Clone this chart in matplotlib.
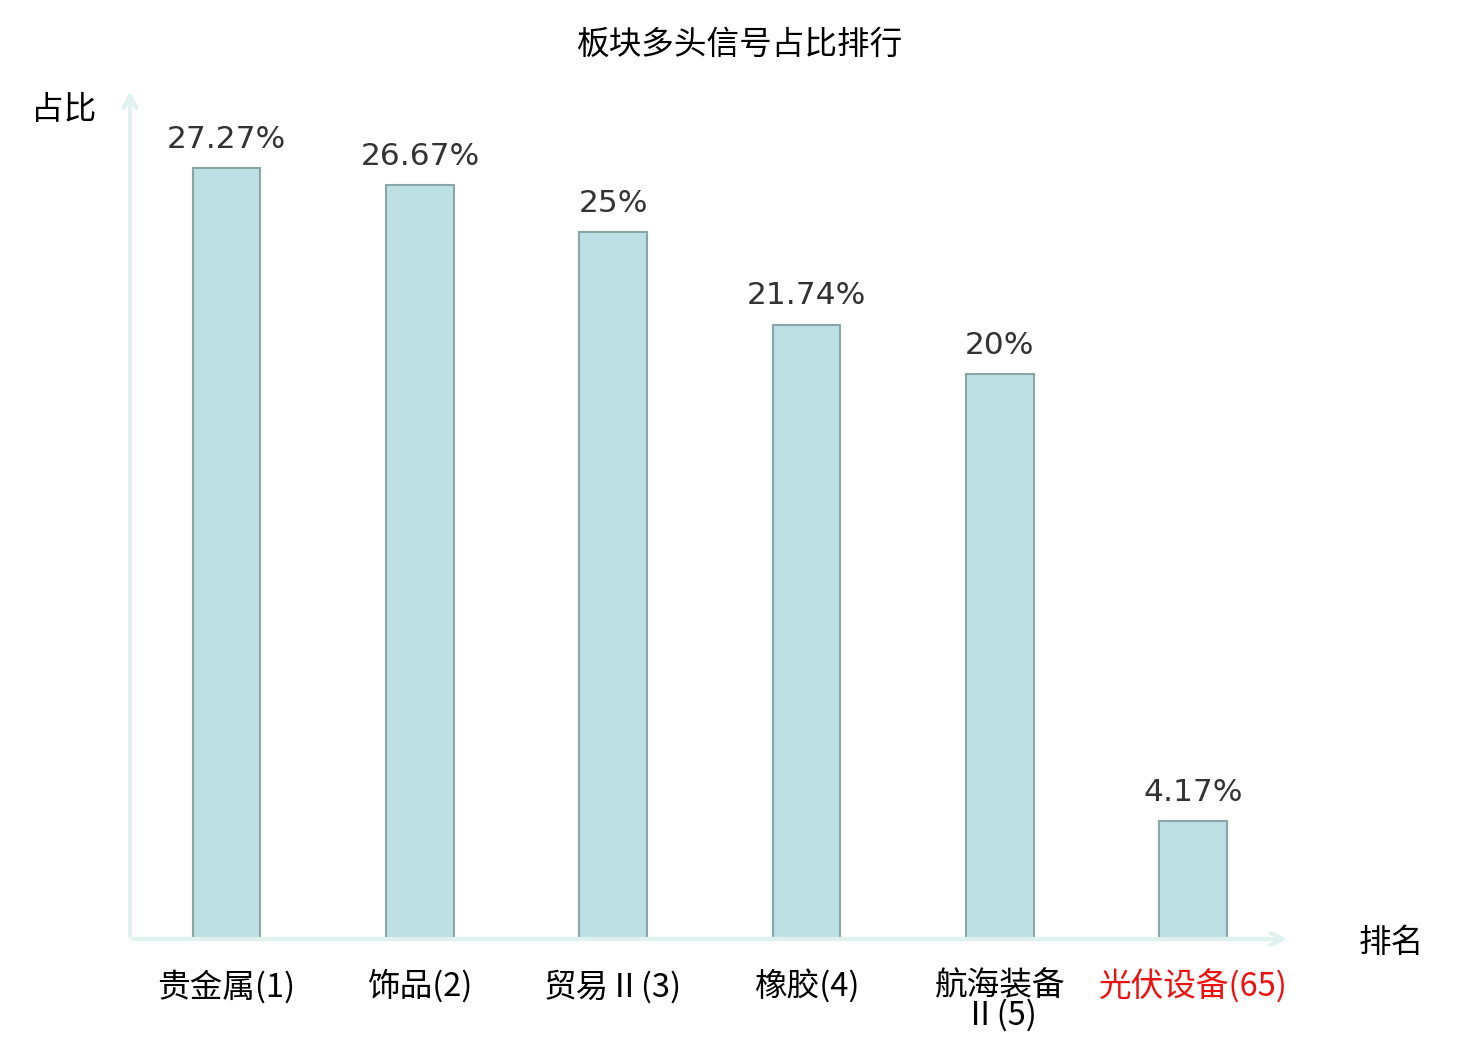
import matplotlib
matplotlib.use('Agg')
import matplotlib.pyplot as plt

plt.rcParams['font.family'] = ['Noto Sans CJK SC', 'DejaVu Sans']

# 数据
sectors = ['贵金属(1)', '饰品(2)', '贸易Ⅱ(3)', '橡胶(4)', '航海装备\nⅡ(5)', '光伏设备(65)']
values = [27.27, 26.67, 25, 21.74, 20, 4.17]
value_labels = ['27.27%', '26.67%', '25%', '21.74%', '20%', '4.17%']

fig = plt.figure(figsize=(14.8, 10.4), dpi=100)
ax = fig.add_axes([0.0878, 0.0971, 0.7838, 0.818])

x = list(range(len(sectors)))
ax.bar(x, values, width=0.35, color='#bce0e3', edgecolor='#8aa6a6', linewidth=1.5, zorder=2)
ax.set_xlim(-0.5, 5.5)
ax.set_ylim(0, 30.1)

for i, v in enumerate(values):
    ax.text(i, v + 0.5, value_labels[i], ha='center', va='bottom', fontsize=22.5,
            color='#333333', family='DejaVu Sans')

for s in ax.spines.values():
    s.set_visible(False)
ax.set_yticks([])
ax.set_xticks(x)
ax.set_xticklabels(sectors, fontsize=23.5, linespacing=0.9)
ax.tick_params(axis='x', length=0, pad=22)
ax.get_xticklabels()[-1].set_color('#ee1111')

# 坐标轴箭头
axis_col = '#dff2ef'
ax.annotate('', xy=(1.0, 0), xytext=(0, 0), xycoords='axes fraction',
            arrowprops=dict(arrowstyle='->,head_length=0.9,head_width=0.45', color=axis_col, lw=3))
ax.annotate('', xy=(0, 1.0), xytext=(0, 0), xycoords='axes fraction',
            arrowprops=dict(arrowstyle='->,head_length=0.9,head_width=0.45', color=axis_col, lw=3))

fig.text(0.5, 0.957, '板块多头信号占比排行', ha='center', va='center', fontsize=23.5)
fig.text(0.043, 0.894, '占比', ha='center', va='center', fontsize=23.5)
fig.text(0.94, 0.093, '排名', ha='center', va='center', fontsize=23.5)

fig.savefig('out.png', dpi=100)
